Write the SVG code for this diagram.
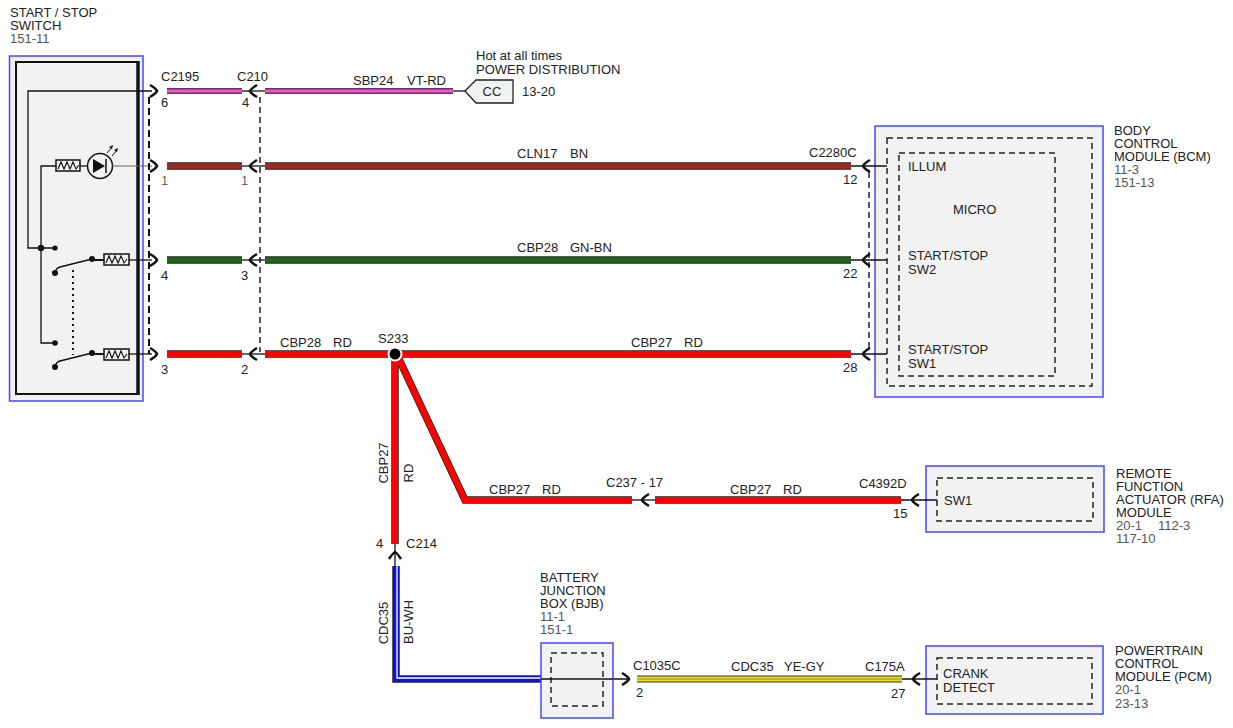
<svg xmlns="http://www.w3.org/2000/svg" width="1233" height="728" viewBox="0 0 1233 728">
<style>
text{font-family:"Liberation Sans",Arial,sans-serif;font-size:13px;fill:#222}
.g{fill:#555}
.mod{fill:#f2f2f2;stroke:#4646ff;stroke-width:1.5}
.dash{fill:none;stroke:#222;stroke-width:1.5;stroke-dasharray:6 4}
.thin{fill:none;stroke:#111;stroke-width:1.3}
.chev{fill:none;stroke:#111;stroke-width:2.5}
.wo{fill:none;stroke:#222;stroke-width:7.5}
.pk{fill:none;stroke:#ff4fc8;stroke-width:3}
.pko{fill:none;stroke:#5a3a6e;stroke-width:6}
.bn{fill:none;stroke:#9e2a24;stroke-width:5.5}
.gn{fill:none;stroke:#1f6a18;stroke-width:5.5}
.rd{fill:none;stroke:#ff0000;stroke-width:6}
.bu{fill:none;stroke:#0a14e6;stroke-width:5.5}
.wh{fill:none;stroke:#fff;stroke-width:1.3}
.ye{fill:none;stroke:#eee000;stroke-width:5}
.gy{fill:none;stroke:#8a8a60;stroke-width:1}
.res{fill:#f2f2f2;stroke:#111;stroke-width:1.5}
.zig{fill:none;stroke:#111;stroke-width:1.1}
</style>
<defs>
<path id="chR" d="M-7,-6 Q-1,-2.5 0,0 Q-1,2.5 -7,6"/>
<path id="chL" d="M7,-6 Q1,-2.5 0,0 Q1,2.5 7,6"/>
<polyline id="zz" points="2,9 5,2 8,9 11,2 14,9 17,2 20,9 23,5"/>
</defs>

<g id="start-stop-switch">
<text x="10" y="17">START / STOP</text>
<text x="10" y="30">SWITCH</text>
<text x="10" y="43" class="g">151-11</text>
<rect x="9.5" y="56" width="133.5" height="345" class="mod"/>
<rect x="16" y="62" width="122" height="332" fill="#f2f2f2" stroke="#111" stroke-width="2"/>
<line x1="138" y1="61" x2="138" y2="395" stroke="#111" stroke-width="3.5"/>
<polyline class="thin" points="152,91 28,91 28,248 55,248"/>
<circle cx="41" cy="248" r="3.2" fill="#111"/>
<circle cx="55" cy="248" r="2.6" fill="#111"/>
<polyline class="thin" points="56,166 41,166 41,343 55,343"/>
<circle cx="55" cy="343" r="2.8" fill="#111"/>
<rect x="56" y="160" width="24" height="11" class="res"/>
<use href="#zz" x="56" y="160" class="zig"/>
<line x1="80" y1="166" x2="88" y2="166" class="thin"/>
<circle cx="100" cy="166" r="12.5" fill="none" stroke="#111" stroke-width="1.5"/>
<polygon points="93,159 93,173 105,166" fill="#111"/>
<line x1="106" y1="159" x2="106" y2="173" stroke="#111" stroke-width="1.5"/>
<line x1="107" y1="153" x2="112" y2="147" stroke="#111" stroke-width="1"/>
<polygon points="113,145 109,147 112,149" fill="#111"/>
<line x1="112" y1="156" x2="117" y2="150" stroke="#111" stroke-width="1"/>
<polygon points="118,148 114,150 117,152" fill="#111"/>
<line x1="112" y1="166" x2="152" y2="166" stroke="#666" stroke-width="1"/>
<path d="M55,273 Q56,268 60,267 L92,259" class="thin" stroke-width="1.6"/>
<circle cx="55" cy="273" r="3" fill="#111"/>
<circle cx="92" cy="259" r="3" fill="#111"/>
<line x1="92" y1="260" x2="104" y2="260" stroke="#111" stroke-width="2"/>
<rect x="104" y="254" width="25" height="11" class="res"/>
<use href="#zz" x="104" y="254" class="zig"/>
<line x1="129" y1="260" x2="152" y2="260" class="thin"/>
<path d="M55,367 Q56,362 60,361 L92,353" class="thin" stroke-width="1.6"/>
<circle cx="55" cy="367" r="3" fill="#111"/>
<circle cx="92" cy="353" r="3" fill="#111"/>
<line x1="92" y1="354" x2="104" y2="354" stroke="#111" stroke-width="2"/>
<rect x="104" y="349" width="25" height="11" class="res"/>
<use href="#zz" x="104" y="349" class="zig"/>
<line x1="129" y1="354" x2="152" y2="354" class="thin"/>
<line x1="73" y1="270" x2="73" y2="355" stroke="#111" stroke-width="2" stroke-dasharray="2 4"/>
</g>

<g id="c2195">
<text x="161" y="81">C2195</text>
<line x1="149" y1="97" x2="149" y2="354" stroke="#111" stroke-width="2" stroke-dasharray="7 4"/>
<use href="#chR" x="157" y="91" class="chev"/>
<use href="#chR" x="157" y="166" class="chev"/>
<use href="#chR" x="157" y="260" class="chev"/>
<use href="#chR" x="157" y="354" class="chev"/>
<text x="161" y="107">6</text>
<text x="161" y="185" style="fill:#666">1</text>
<text x="161" y="280">4</text>
<text x="161" y="374">3</text>
</g>

<g id="c210">
<text x="237" y="81">C210</text>
<line x1="260" y1="97" x2="260" y2="352" class="dash" stroke-width="1"/>
<g class="thin">
<line x1="242" y1="91" x2="265" y2="91"/><line x1="242" y1="166" x2="265" y2="166"/>
<line x1="242" y1="260" x2="265" y2="260"/><line x1="242" y1="354" x2="265" y2="354"/>
</g>
<use href="#chL" x="250" y="91" class="chev"/>
<use href="#chL" x="250" y="166" class="chev"/>
<use href="#chL" x="250" y="260" class="chev"/>
<use href="#chL" x="250" y="354" class="chev"/>
<text x="242" y="107">4</text>
<text x="241" y="185" style="fill:#666">1</text>
<text x="241" y="280">3</text>
<text x="241" y="374">2</text>
</g>

<g id="power-distribution">
<text x="476" y="60">Hot at all times</text>
<text x="476" y="74">POWER DISTRIBUTION</text>
<polygon points="465,91 476,80 513,80 513,103 476,103" fill="#f2f2f2" stroke="#222" stroke-width="1.3"/>
<text x="492" y="96" text-anchor="middle">CC</text>
<text x="522" y="96">13-20</text>
</g>

<g id="connectors">
<line x1="453" y1="91" x2="465" y2="91" class="thin"/>
<line x1="167" y1="91" x2="242" y2="91" class="pko"/><line x1="167" y1="91" x2="242" y2="91" class="pk"/>
<line x1="265" y1="91" x2="453" y2="91" class="pko"/><line x1="265" y1="91" x2="453" y2="91" class="pk"/>
<text x="353" y="85">SBP24</text><text x="407" y="85">VT-RD</text>
<line x1="167" y1="166" x2="242" y2="166" class="wo"/><line x1="167" y1="166" x2="242" y2="166" class="bn"/>
<line x1="265" y1="166" x2="851" y2="166" class="wo"/><line x1="265" y1="166" x2="851" y2="166" class="bn"/>
<text x="517" y="158">CLN17</text><text x="570" y="158">BN</text>
<line x1="167" y1="260" x2="242" y2="260" class="wo"/><line x1="167" y1="260" x2="242" y2="260" class="gn"/>
<line x1="265" y1="260" x2="851" y2="260" class="wo"/><line x1="265" y1="260" x2="851" y2="260" class="gn"/>
<text x="517" y="252">CBP28</text><text x="570" y="252">GN-BN</text>
<line x1="167" y1="354" x2="242" y2="354" class="wo"/><line x1="167" y1="354" x2="242" y2="354" class="rd"/>
<polyline points="395,354 395,544" class="wo"/>
<polyline points="398,357 465,500 632,500" class="wo" stroke-linejoin="miter"/>
<line x1="265" y1="354" x2="851" y2="354" class="wo"/>
<line x1="655" y1="500" x2="901" y2="500" class="wo"/>
<polyline points="395,354 395,544" class="rd"/>
<polyline points="398,357 465,500 632,500" class="rd" stroke-linejoin="miter"/>
<line x1="265" y1="354" x2="851" y2="354" class="rd"/>
<line x1="655" y1="500" x2="901" y2="500" class="rd"/>
<text x="280" y="347">CBP28</text><text x="333" y="347">RD</text>
<text x="631" y="347">CBP27</text><text x="684" y="347">RD</text>
<text x="489" y="494">CBP27</text><text x="542" y="494">RD</text>
<text x="730" y="494">CBP27</text><text x="783" y="494">RD</text>
<text transform="translate(388,463) rotate(-90)" text-anchor="middle">CBP27</text>
<text transform="translate(413,473) rotate(-90)" text-anchor="middle">RD</text>
<line x1="632" y1="500" x2="655" y2="500" class="thin"/>
<use href="#chL" x="642" y="500" class="chev"/>
<text x="606" y="487">C237  -  17</text>
<line x1="395" y1="544" x2="395" y2="567" class="thin"/>
<path d="M389,559 Q393,553 395,552 Q397,553 401,559" class="chev"/>
<text x="376" y="548">4</text>
<text x="406" y="548">C214</text>
<polyline points="396,566 396,679 541,679" class="wo" stroke="#000"/>
<polyline points="396,566 396,679 541,679" class="bu"/>
<polyline points="397,566 397,678 541,678" class="wh"/>
<text transform="translate(388,623) rotate(-90)" text-anchor="middle">CDC35</text>
<text transform="translate(413,622) rotate(-90)" text-anchor="middle">BU-WH</text>
<line x1="541" y1="679" x2="630" y2="679" class="thin"/>
<use href="#chR" x="629" y="679" class="chev"/>
<line x1="637" y1="679" x2="902" y2="679" stroke="#333" stroke-width="7"/>
<line x1="637" y1="679" x2="902" y2="679" class="ye"/>
<line x1="637" y1="679" x2="902" y2="679" class="gy"/>
<text x="633" y="670">C1035C</text>
<text x="636" y="697">2</text>
<text x="731" y="671">CDC35</text><text x="784" y="671">YE-GY</text>
<circle cx="395" cy="354" r="6.5" fill="#000" stroke="#fff" stroke-width="2"/>
<text x="378" y="343">S233</text>
</g>

<g id="bcm">
<rect x="875" y="126" width="228" height="271" class="mod"/>
<rect x="887" y="138" width="205" height="248" class="dash"/>
<rect x="899" y="153" width="156" height="223" class="dash"/>
<line x1="869" y1="172" x2="869" y2="352" class="dash" stroke-width="1"/>
<g class="thin">
<line x1="851" y1="166" x2="887" y2="166"/><line x1="851" y1="260" x2="887" y2="260"/><line x1="851" y1="354" x2="887" y2="354"/>
</g>
<use href="#chL" x="863" y="166" class="chev"/>
<use href="#chL" x="863" y="260" class="chev"/>
<use href="#chL" x="863" y="354" class="chev"/>
<text x="809" y="157">C2280C</text>
<text x="843" y="184">12</text>
<text x="843" y="278">22</text>
<text x="843" y="372">28</text>
<text x="908" y="171">ILLUM</text>
<text x="953" y="214">MICRO</text>
<text x="908" y="260">START/STOP</text>
<text x="908" y="274">SW2</text>
<text x="908" y="354">START/STOP</text>
<text x="908" y="368">SW1</text>
<text x="1114" y="135">BODY</text>
<text x="1114" y="148">CONTROL</text>
<text x="1114" y="161">MODULE (BCM)</text>
<text x="1114" y="174" class="g">11-3</text>
<text x="1114" y="187" class="g">151-13</text>
</g>

<g id="rfa">
<rect x="926" y="466" width="178" height="66" class="mod"/>
<rect x="937" y="478" width="156" height="43" class="dash"/>
<line x1="901" y1="500" x2="937" y2="500" class="thin"/>
<use href="#chL" x="912" y="500" class="chev"/>
<text x="859" y="488">C4392D</text>
<text x="893" y="518">15</text>
<text x="944" y="505">SW1</text>
<text x="1116" y="478">REMOTE</text>
<text x="1116" y="491">FUNCTION</text>
<text x="1116" y="504">ACTUATOR (RFA)</text>
<text x="1116" y="517">MODULE</text>
<text x="1116" y="530" class="g">20-1</text>
<text x="1158" y="530" class="g">112-3</text>
<text x="1116" y="543" class="g">117-10</text>
</g>

<g id="bjb">
<text x="540" y="582">BATTERY</text>
<text x="540" y="595">JUNCTION</text>
<text x="540" y="608">BOX (BJB)</text>
<text x="540" y="621" class="g">11-1</text>
<text x="540" y="634" class="g">151-1</text>
<rect x="541" y="643" width="72" height="75" class="mod"/>
<rect x="551" y="653" width="52" height="53" class="dash"/>
<line x1="541" y1="679" x2="613" y2="679" class="thin"/>
</g>

<g id="pcm">
<rect x="926" y="646" width="177" height="68" class="mod"/>
<rect x="937" y="658" width="155" height="46" class="dash"/>
<line x1="902" y1="679" x2="937" y2="679" class="thin"/>
<use href="#chL" x="913" y="679" class="chev"/>
<text x="865" y="671">C175A</text>
<text x="891" y="698">27</text>
<text x="943" y="678">CRANK</text>
<text x="943" y="692">DETECT</text>
<text x="1115" y="655">POWERTRAIN</text>
<text x="1115" y="668">CONTROL</text>
<text x="1115" y="681">MODULE (PCM)</text>
<text x="1115" y="694" class="g">20-1</text>
<text x="1115" y="708" class="g">23-13</text>
</g>
</svg>
